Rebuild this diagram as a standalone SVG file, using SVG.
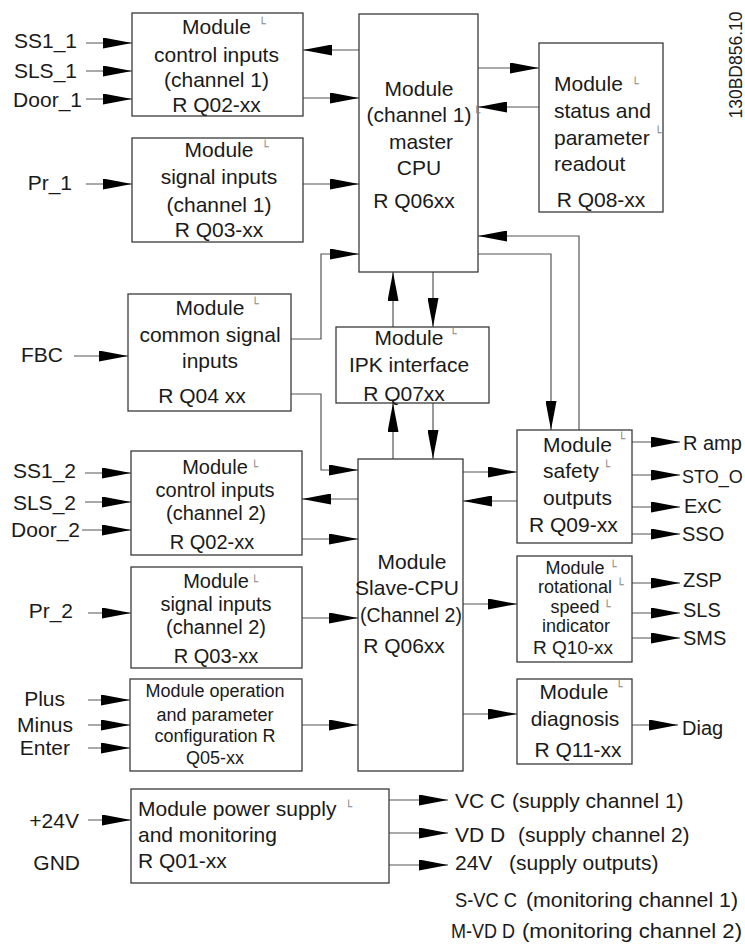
<svg xmlns="http://www.w3.org/2000/svg" width="745" height="947" viewBox="0 0 745 947">
<defs>
<style>
.box{fill:#fff;stroke:#3a3a3a;stroke-width:1.3}
.t{font-family:"Liberation Sans",Arial,sans-serif;font-size:21px;fill:#1a1a1a}
.s{font-size:18px}
.m{font-size:20px}
.r{font-size:20px}
.c{text-anchor:middle}
.e{text-anchor:end}
.w{fill:none;stroke:#555;stroke-width:1.2;marker-end:url(#a)}
.mk{font-family:"DejaVu Sans",sans-serif;font-size:12px;fill:#888}
</style>
<marker id="a" markerUnits="userSpaceOnUse" markerWidth="29" markerHeight="11" refX="29" refY="5.5" orient="auto"><path d="M0,0L29,5.5L0,11z" fill="#000"/></marker>
</defs>
<rect width="745" height="947" fill="#fff"/>

<g id="connectors">
<path class="w" d="M86,43H132"/>
<path class="w" d="M86,71H132"/>
<path class="w" d="M86,99H132"/>
<path class="w" d="M359,50H303"/>
<path class="w" d="M303,98H359"/>
<path class="w" d="M86,184H132"/>
<path class="w" d="M303,184H359"/>
<path class="w" d="M478,68H539"/>
<path class="w" d="M539,107H478"/>
<path class="w" d="M291,339H321V254H359"/>
<path class="w" d="M74,356H128"/>
<path class="w" d="M291,394H321V470H358"/>
<path class="w" d="M393,327V272"/>
<path class="w" d="M433,272V327"/>
<path class="w" d="M393,459V403"/>
<path class="w" d="M433,403V459"/>
<path class="w" d="M478,254H551V430"/>
<path class="w" d="M579,430V236H478"/>
<path class="w" d="M85,473H131"/>
<path class="w" d="M85,502H131"/>
<path class="w" d="M82,530H131"/>
<path class="w" d="M358,499H302"/>
<path class="w" d="M302,539H358"/>
<path class="w" d="M88,613H131"/>
<path class="w" d="M302,618H358"/>
<path class="w" d="M463,472H517"/>
<path class="w" d="M517,501H463"/>
<path class="w" d="M632,442H680"/>
<path class="w" d="M632,475H680"/>
<path class="w" d="M632,507H680"/>
<path class="w" d="M632,534H680"/>
<path class="w" d="M463,604H517"/>
<path class="w" d="M632,583H680"/>
<path class="w" d="M632,613H680"/>
<path class="w" d="M632,638H680"/>
<path class="w" d="M463,714H517"/>
<path class="w" d="M632,725H678"/>
<path class="w" d="M88,700H130"/>
<path class="w" d="M88,725H130"/>
<path class="w" d="M88,748H130"/>
<path class="w" d="M302,725H358"/>
<path class="w" d="M88,820H131"/>
<path class="w" d="M389,800H448"/>
<path class="w" d="M389,833H448"/>
<path class="w" d="M389,865H448"/>
</g>

<g id="labels" class="t">
<text class="e" x="77" y="48">SS1_1</text>
<text class="e" x="77" y="78">SLS_1</text>
<text class="e" x="82" y="107">Door_1</text>
<text class="e" x="72" y="190">Pr_1</text>
<text class="e" x="63" y="362">FBC</text>
<text class="e" x="76" y="478">SS1_2</text>
<text class="e" x="76" y="510">SLS_2</text>
<text class="e" x="80" y="537">Door_2</text>
<text class="e" x="73" y="618">Pr_2</text>
<text class="e" x="65" y="706">Plus</text>
<text class="e" x="73" y="732">Minus</text>
<text class="e" x="70" y="755">Enter</text>
<text class="e" x="79" y="828">+24V</text>
<text class="e" x="80" y="870">GND</text>
<text class="r" x="683" y="450">R amp</text>
<text x="682" y="483" style="font-size:18px">STO_O</text>
<text class="r" x="684" y="513">ExC</text>
<text class="r" x="682" y="541">SSO</text>
<text class="r" x="683" y="587">ZSP</text>
<text class="r" x="683" y="617">SLS</text>
<text class="r" x="683" y="645">SMS</text>
<text class="r" x="682" y="735">Diag</text>
<text x="455" y="808">VC C</text><text x="512" y="808">(supply channel 1)</text>
<text x="455" y="842">VD D</text><text x="518" y="842">(supply channel 2)</text>
<text x="455" y="870">24V</text><text x="509" y="870">(supply outputs)</text>
<text x="455" y="907" textLength="62" lengthAdjust="spacingAndGlyphs">S-VC C</text><text x="526" y="907" textLength="212" lengthAdjust="spacingAndGlyphs">(monitoring channel 1)</text>
<text x="451" y="938" textLength="64" lengthAdjust="spacingAndGlyphs">M-VD D</text><text x="522" y="938" textLength="220" lengthAdjust="spacingAndGlyphs">(monitoring channel 2)</text>
<text class="c" style="font-size:17.5px" transform="translate(742,65) rotate(-90)">130BD856.10</text>
</g>

<g id="ctrl1">
<rect class="box" x="132" y="13" width="171" height="103"/>
<g class="t c"><text x="216.5" y="34">Module</text><text x="216.5" y="62">control inputs</text><text x="216.5" y="87">(channel 1)</text><text x="216.5" y="112">R Q02-xx</text></g>
<text class="mk" x="258.4" y="28">└</text>
</g>

<g id="sig1">
<rect class="box" x="132" y="138" width="171" height="104"/>
<g class="t c"><text x="219" y="157">Module</text><text x="219" y="184">signal inputs</text><text x="219" y="212">(channel 1)</text><text x="219" y="237">R Q03-xx</text></g>
<text class="mk" x="261.4" y="151">└</text>
</g>

<g id="master">
<rect class="box" x="359" y="14" width="119" height="258"/>
<g class="t c"><text x="419" y="96">Module</text><text x="419" y="122">(channel 1)</text><text x="421" y="149">master</text><text x="419" y="175">CPU</text><text x="414" y="208">R Q06xx</text></g>
<text class="mk" x="473" y="117">└</text>
</g>

<g id="status">
<rect class="box" x="539" y="43" width="124" height="169"/>
<g class="t"><text x="554" y="91">Module</text><text x="554" y="118">status and</text><text x="554" y="145">parameter</text><text x="554" y="171">readout</text><text class="c" x="601" y="207">R Q08-xx</text></g>
<text class="mk" x="631.4" y="88">└</text>
<text class="mk" x="654.4" y="137">└</text>
</g>

<g id="common">
<rect class="box" x="128" y="294" width="163" height="117"/>
<g class="t c"><text x="210" y="315">Module</text><text x="210" y="342">common signal</text><text x="210" y="368">inputs</text><text x="202" y="403">R Q04 xx</text></g>
<text class="mk" x="251.4" y="308">└</text>
</g>

<g id="ipk">
<rect class="box" x="336" y="327" width="153" height="76"/>
<g class="t c"><text x="409" y="345">Module</text><text x="409" y="372">IPK interface</text><text x="404" y="401">R Q07xx</text></g>
<text class="mk" x="449.4" y="338">└</text>
</g>

<g id="safety">
<rect class="box" x="517" y="430" width="115" height="113"/>
<g class="t"><text x="543" y="452">Module</text><text x="543" y="478">safety</text><text x="543" y="505">outputs</text><text x="529" y="532">R Q09-xx</text></g>
<text class="mk" x="618" y="443">└</text>
<text class="mk" x="603" y="471">└</text>
</g>

<g id="ctrl2">
<rect class="box" x="131" y="451" width="171" height="104"/>
<g class="t c m"><text x="215" y="474">Module</text><text x="215" y="497">control inputs</text><text x="216" y="520">(channel 2)</text><text x="212" y="549">R Q02-xx</text></g>
<text class="mk" x="251" y="471">└</text>
</g>

<g id="slave">
<rect class="box" x="358" y="459" width="105" height="312"/>
<g class="t c"><text x="412" y="569">Module</text><text x="407" y="595">Slave-CPU</text><text x="411" y="622" style="font-size:19.5px">(Channel 2)</text><text x="404" y="653">R Q06xx</text></g>
</g>

<g id="sig2">
<rect class="box" x="131" y="567" width="171" height="101"/>
<g class="t c m"><text x="216" y="588">Module</text><text x="216" y="611">signal inputs</text><text x="216" y="634">(channel 2)</text><text x="216" y="663">R Q03-xx</text></g>
<text class="mk" x="251" y="586">└</text>
</g>

<g id="rotational">
<rect class="box" x="517" y="556" width="115" height="106"/>
<g class="t c s"><text x="575" y="574">Module</text><text x="575" y="593">rotational</text><text x="575" y="613">speed</text><text x="576" y="632">indicator</text><text x="573" y="654" style="font-size:19px">R Q10-xx</text></g>
<text class="mk" x="609.5" y="571">└</text>
<text class="mk" x="616.5" y="589">└</text>
<text class="mk" x="603.5" y="611">└</text>
</g>

<g id="operation">
<rect class="box" x="130" y="679" width="172" height="92"/>
<g class="t c s"><text x="215" y="697">Module operation</text><text x="215" y="721">and parameter</text><text x="215" y="742">configuration R</text><text x="215" y="764">Q05-xx</text></g>
</g>

<g id="diagnosis">
<rect class="box" x="517" y="679" width="115" height="85"/>
<g class="t c"><text x="574" y="699">Module</text><text x="575" y="726">diagnosis</text><text x="578" y="757">R Q11-xx</text></g>
<text class="mk" x="615.5" y="691">└</text>
</g>

<g id="power">
<rect class="box" x="131" y="789" width="258" height="94"/>
<g class="t"><text x="138" y="816">Module power supply</text><text x="138" y="842">and monitoring</text><text x="138" y="868">R Q01-xx</text></g>
<text class="mk" x="345" y="811">└</text>
</g>
</svg>
